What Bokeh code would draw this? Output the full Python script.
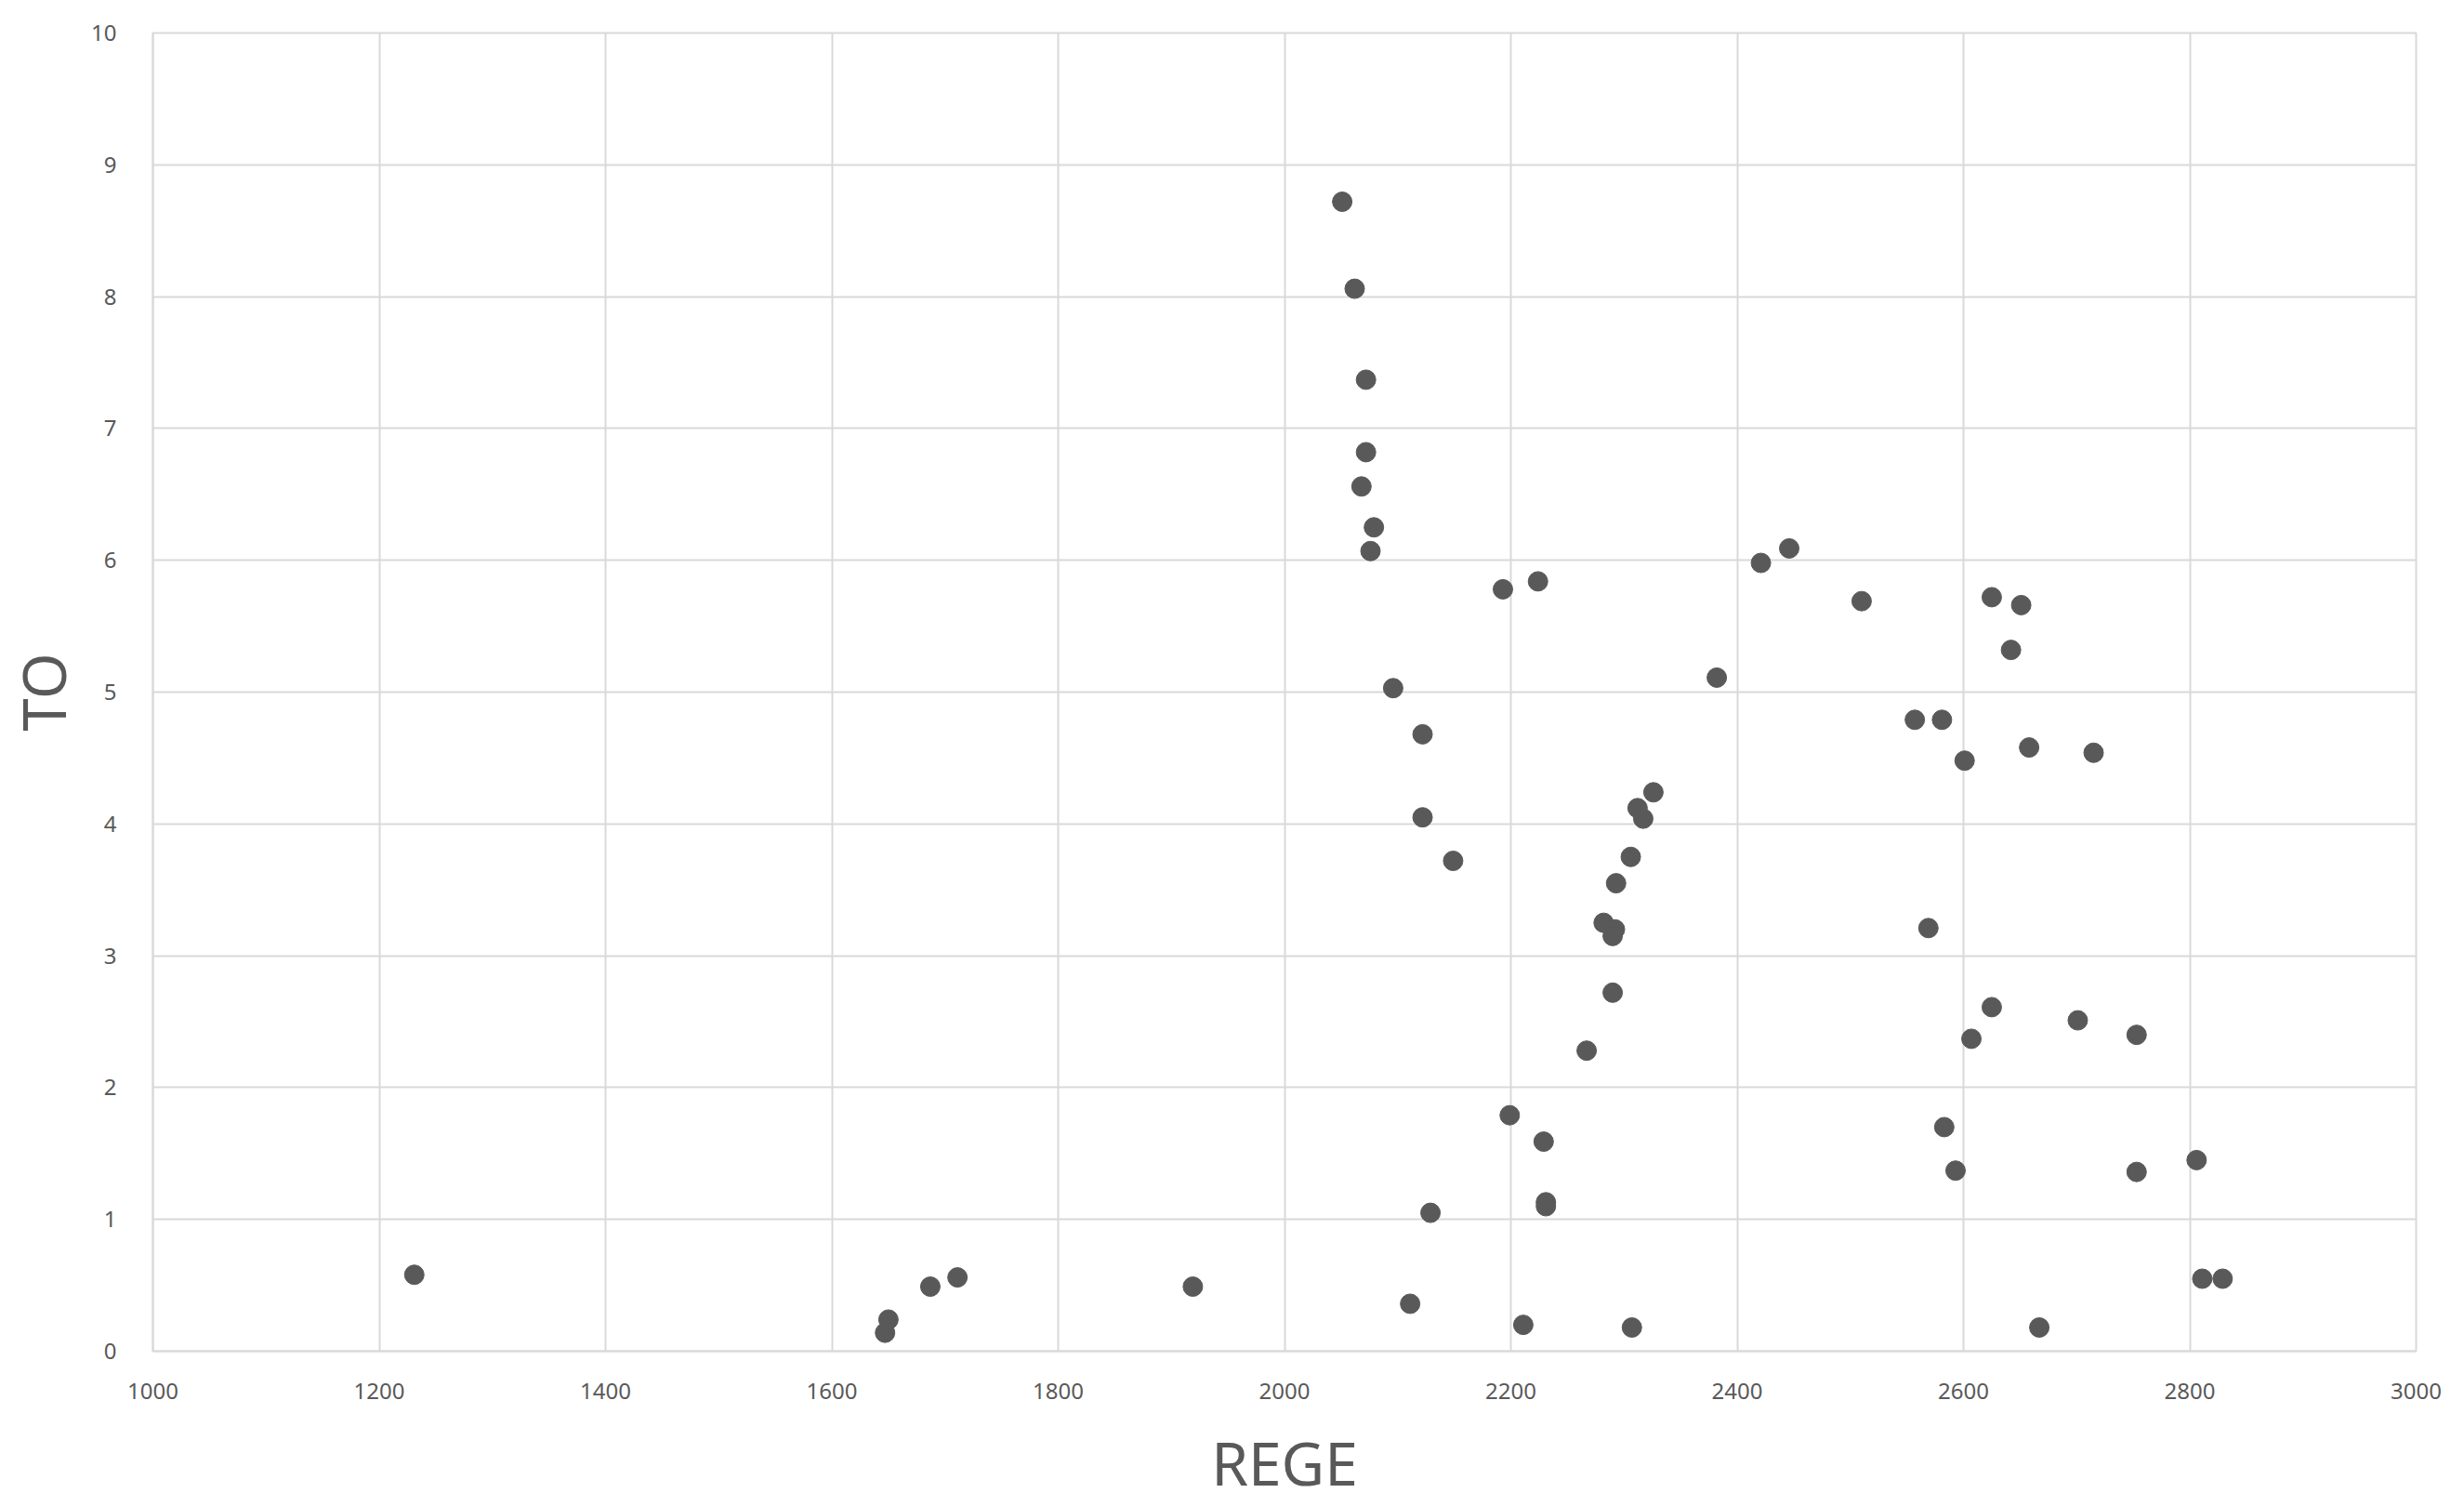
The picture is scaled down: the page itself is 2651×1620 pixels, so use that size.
from bokeh.plotting import figure
from bokeh.models import Range1d, FixedTicker, ColumnDataSource
from bokeh.embed import file_html
from bokeh.resources import INLINE

rege = [1231, 1650, 1647, 1687, 1711, 1919,
        2051, 2062, 2072, 2072, 2068, 2079, 2076, 2096, 2122, 2122, 2149, 2129, 2111,
        2193, 2224, 2199, 2229, 2231, 2231, 2211,
        2267, 2282, 2292, 2290, 2290, 2293, 2306, 2312, 2317, 2326, 2307,
        2382, 2421, 2446, 2510, 2557, 2581, 2601, 2569,
        2625, 2651, 2642, 2658, 2715, 2625, 2607, 2701, 2753,
        2583, 2593, 2753, 2806, 2811, 2829, 2667]
to = [0.58, 0.24, 0.14, 0.49, 0.56, 0.49,
      8.72, 8.06, 7.37, 6.82, 6.56, 6.25, 6.07, 5.03, 4.68, 4.05, 3.72, 1.05, 0.36,
      5.78, 5.84, 1.79, 1.59, 1.13, 1.10, 0.20,
      2.28, 3.25, 3.20, 3.15, 2.72, 3.55, 3.75, 4.12, 4.04, 4.24, 0.18,
      5.11, 5.98, 6.09, 5.69, 4.79, 4.79, 4.48, 3.21,
      5.72, 5.66, 5.32, 4.58, 4.54, 2.61, 2.37, 2.51, 2.40,
      1.70, 1.37, 1.36, 1.45, 0.55, 0.55, 0.18]

x_ticks = [1000, 1200, 1400, 1600, 1800, 2000, 2200, 2400, 2600, 2800, 3000]
y_ticks = [0, 1, 2, 3, 4, 5, 6, 7, 8, 9, 10]

src = ColumnDataSource(dict(x=rege, y=to))

p = figure(frame_width=2435, frame_height=1418, output_backend="svg", toolbar_location=None,
           x_range=Range1d(1000, 3000), y_range=Range1d(0, 10),
           min_border_left=146, min_border_right=44, min_border_top=35, min_border_bottom=150)

p.scatter("x", "y", source=src, size=21, color="#595959", line_color="#595959")

font = "Noto Sans"
grid_col = "#d9d9d9"
for ax in (p.xaxis[0], p.yaxis[0]):
    ax.axis_line_color = grid_col
    ax.axis_line_width = 2
    ax.major_tick_line_color = None
    ax.minor_tick_line_color = None
    ax.major_label_text_font = font
    ax.major_label_text_font_size = "24px"
    ax.major_label_text_color = "#595959"
    ax.axis_label_text_font = font
    ax.axis_label_text_font_size = "64px"
    ax.axis_label_text_color = "#595959"
    ax.axis_label_text_font_style = "normal"

p.xaxis.ticker = FixedTicker(ticks=x_ticks)
p.yaxis.ticker = FixedTicker(ticks=y_ticks)
p.xaxis.axis_label = "REGE"
p.yaxis.axis_label = "TO"
p.xaxis.major_label_standoff = 28
p.yaxis.major_label_standoff = 33
p.xaxis.axis_label_standoff = 22
p.yaxis.axis_label_standoff = 5

p.xgrid.grid_line_color = grid_col
p.ygrid.grid_line_color = grid_col
p.xgrid.grid_line_width = 2
p.ygrid.grid_line_width = 2
p.outline_line_color = grid_col
p.outline_line_width = 2
p.background_fill_color = "white"
p.border_fill_color = "white"

open("out.html", "w").write(file_html(p, INLINE))
